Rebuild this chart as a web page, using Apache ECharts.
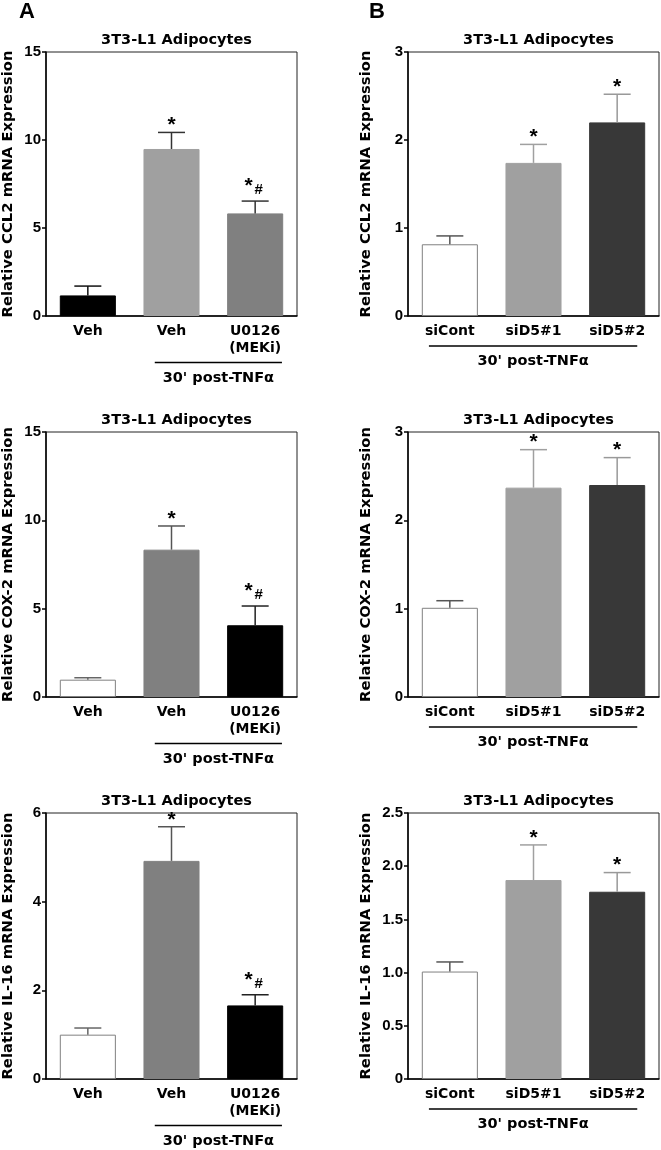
<!DOCTYPE html>
<html>
<head>
<meta charset="utf-8">
<script src="https://cdn.jsdelivr.net/npm/echarts@6/dist/echarts.min.js"></script>
<style>
html,body{margin:0;padding:0;background:#fff;}
#chart{width:661px;height:1150px;}
</style>
</head>
<body>
<div id="chart"></div>
<script>
// ---------- DATA ----------
const catsA = ['Veh', 'Veh', 'U0126\n(MEKi)'];
const catsB = ['siCont', 'siD5#1', 'siD5#2'];

const ccl2A_mean = [1.17, 9.49, 5.83];
const ccl2A_sem  = [0.53, 0.94, 0.70];
const ccl2B_mean = [0.815, 1.74, 2.20];
const ccl2B_sem  = [0.095, 0.21, 0.32];

const cox2A_mean = [0.98, 8.34, 4.06];
const cox2A_sem  = [0.11, 1.34, 1.09];
const cox2B_mean = [1.01, 2.37, 2.40];
const cox2B_sem  = [0.08, 0.43, 0.31];

const il16A_mean = [1.00, 4.92, 1.66];
const il16A_sem  = [0.15, 0.77, 0.24];
const il16B_mean = [1.01, 1.87, 1.76];
const il16B_sem  = [0.09, 0.33, 0.18];

const sigA = ['', '*', '*#'];
const sigB = ['', '*', '*'];

const ticksCCL2A = [0, 5, 10, 15];
const ticksCCL2B = [0, 1, 2, 3];
const ticksCOX2A = [0, 5, 10, 15];
const ticksCOX2B = [0, 1, 2, 3];
const ticksIL16A = [0, 2, 4, 6];
const ticksIL16B = [0, 0.5, 1.0, 1.5, 2.0, 2.5];

const bracketA = [1, 2];
const bracketB = [0, 2];

const panelTitle = '3T3-L1 Adipocytes';
const bracketText = "30' post-TNF\u03b1";
const yNames = ['Relative CCL2 mRNA Expression', 'Relative COX-2 mRNA Expression', 'Relative IL-16 mRNA Expression'];

// ---------- STYLES / LAYOUT ----------
const fillA1 = ['#000000', '#a0a0a0', '#808080'];
const fillA23 = ['#ffffff', '#808080', '#000000'];
const fillB = ['#ffffff', '#a0a0a0', '#383838'];
const errA1 = ['#111111', '#333333', '#333333'];
const errA23 = ['#666666', '#555555', '#222222'];
const errB = ['#555555', '#a0a0a0', '#999999'];

const panels = [
  {mean: ccl2A_mean, sem: ccl2A_sem, cats: catsA, ticks: ticksCCL2A, yName: yNames[0], sig: sigA, br: bracketA, fills: fillA1, errs: errA1, left: 46, top: 52, height: 264, nameGap: 30, isA: true},
  {mean: ccl2B_mean, sem: ccl2B_sem, cats: catsB, ticks: ticksCCL2B, yName: yNames[0], sig: sigB, br: bracketB, fills: fillB, errs: errB, left: 408, top: 52, height: 264, nameGap: 34, isA: false},
  {mean: cox2A_mean, sem: cox2A_sem, cats: catsA, ticks: ticksCOX2A, yName: yNames[1], sig: sigA, br: bracketA, fills: fillA23, errs: errA23, left: 46, top: 432, height: 265, nameGap: 30, isA: true},
  {mean: cox2B_mean, sem: cox2B_sem, cats: catsB, ticks: ticksCOX2B, yName: yNames[1], sig: sigB, br: bracketB, fills: fillB, errs: errB, left: 408, top: 432, height: 265, nameGap: 34, isA: false},
  {mean: il16A_mean, sem: il16A_sem, cats: catsA, ticks: ticksIL16A, yName: yNames[2], sig: sigA, br: bracketA, fills: fillA23, errs: errA23, left: 46, top: 813, height: 266, nameGap: 30, isA: true},
  {mean: il16B_mean, sem: il16B_sem, cats: catsB, ticks: ticksIL16B, yName: yNames[2], sig: sigB, br: bracketB, fills: fillB, errs: errB, left: 408, top: 813, height: 266, nameGap: 34, isA: false}
];
const W = 251;
const fTitle = 'DejaVu Sans';
const fTick = 'Liberation Sans';

const grids = [], xAxes = [], yAxes = [], series = [], titles = [];

titles.push({text: 'A', left: 14, top: -4, textStyle: {fontFamily: fTick, fontWeight: 'bold', fontSize: 22, color: '#000'}});
titles.push({text: 'B', left: 364, top: -4, textStyle: {fontFamily: fTick, fontWeight: 'bold', fontSize: 22, color: '#000'}});

panels.forEach((p, k) => {
  grids.push({left: p.left, top: p.top, width: W, height: p.height, show: true, borderColor: '#222', borderWidth: 1, containLabel: false});
  titles.push({text: panelTitle, left: p.left + W / 2, top: p.top - 24, textAlign: 'center',
    textStyle: {fontFamily: fTitle, fontWeight: 'bold', fontSize: 14.5, color: '#000'}});
  const interval = p.ticks[1] - p.ticks[0];
  const decimals = (interval % 1 !== 0);
  xAxes.push({type: 'category', gridIndex: k, data: p.cats,
    axisLine: {lineStyle: {color: '#000', width: 1.5}}, axisTick: {show: false},
    axisLabel: {fontFamily: fTitle, fontWeight: 'bold', fontSize: 14, color: '#000', margin: 7, lineHeight: 17, interval: 0}});
  yAxes.push({type: 'value', gridIndex: k, min: p.ticks[0], max: p.ticks[p.ticks.length - 1], interval: interval,
    name: p.yName, nameLocation: 'middle', nameRotate: 90, nameGap: p.nameGap,
    nameTextStyle: {fontFamily: fTitle, fontWeight: 'bold', fontSize: 14.8, color: '#000'},
    axisLine: {show: true, lineStyle: {color: '#000', width: 1.5}},
    axisTick: {show: true, length: 4, lineStyle: {color: '#000', width: 1.5}},
    splitLine: {show: false},
    axisLabel: {fontFamily: fTick, fontWeight: 'bold', fontSize: 15, color: '#000', margin: 5,
      formatter: v => (v === 0 ? '0' : (decimals ? v.toFixed(1) : String(v)))}});

  series.push({type: 'bar', xAxisIndex: k, yAxisIndex: k, barWidth: '67%', animation: false,
    data: p.mean.map((v, i) => ({value: v, itemStyle: {color: p.fills[i], borderColor: p.fills[i] === '#ffffff' ? '#808080' : p.fills[i], borderWidth: 1}}))});

  series.push({type: 'custom', xAxisIndex: k, yAxisIndex: k, animation: false, clip: false, z: 3,
    data: p.mean.map((v, i) => [i, v, p.sem[i]]),
    renderItem: (params, api) => {
      const i = api.value(0), m = api.value(1), s = api.value(2);
      const b = api.coord([i, m]), t = api.coord([i, m + s]);
      const c = p.errs[i], cap = 13.5;
      return {type: 'group', children: [
        {type: 'line', shape: {x1: b[0], y1: b[1], x2: t[0], y2: t[1]}, style: {stroke: c, lineWidth: 1.5}},
        {type: 'line', shape: {x1: t[0] - cap, y1: t[1], x2: t[0] + cap, y2: t[1]}, style: {stroke: c, lineWidth: 1.5}}
      ]};
    }});

  series.push({type: 'custom', xAxisIndex: k, yAxisIndex: k, animation: false, clip: false, z: 4,
    data: p.mean.map((v, i) => [i, v + p.sem[i]]),
    renderItem: (params, api) => {
      const i = api.value(0), top = api.coord([i, api.value(1)]);
      const sg = p.sig[i];
      const ch = [];
      if (sg === '*') {
        ch.push({type: 'text', x: top[0], y: top[1] - 7, style: {text: '*', align: 'center', verticalAlign: 'middle', fill: '#000', font: 'bold 21px "Liberation Sans"'}});
      } else if (sg === '*#') {
        ch.push({type: 'text', x: top[0] - 6.5, y: top[1] - 15, style: {text: '*', align: 'center', verticalAlign: 'middle', fill: '#000', font: 'bold 21px "Liberation Sans"'}});
        ch.push({type: 'text', x: top[0] + 3.5, y: top[1] - 11, style: {text: '#', align: 'center', verticalAlign: 'middle', fill: '#000', font: 'bold 15px "Liberation Sans"'}});
      }
      return {type: 'group', children: ch};
    }});

  series.push({type: 'custom', xAxisIndex: k, yAxisIndex: k, animation: false, clip: false, z: 4,
    data: [[p.br[0], p.ticks[0], p.br[1]]],
    renderItem: (params, api) => {
      const a = api.coord([api.value(0), api.value(1)]);
      const b = api.coord([api.value(2), api.value(1)]);
      const band = api.size([1, 0])[0];
      const x1 = p.isA ? a[0] - 0.2 * band : a[0] - 0.25 * band;
      const x2 = p.isA ? b[0] + 0.32 * band : b[0] + 0.24 * band;
      const ly = a[1] + (p.isA ? 46.5 : 30);
      const ty = a[1] + (p.isA ? 62 : 45.5);
      return {type: 'group', children: [
        {type: 'line', shape: {x1: x1, y1: ly, x2: x2, y2: ly}, style: {stroke: '#000', lineWidth: 1.5}},
        {type: 'text', x: (x1 + x2) / 2, y: ty, style: {text: bracketText, align: 'center', verticalAlign: 'middle', fill: '#000', font: 'bold 14.5px "DejaVu Sans"'}}
      ]};
    }});
});

const chart = echarts.init(document.getElementById('chart'), null, {renderer: 'canvas'});
chart.setOption({animation: false, backgroundColor: '#fff', title: titles, grid: grids, xAxis: xAxes, yAxis: yAxes, series: series});
</script>
</body>
</html>
